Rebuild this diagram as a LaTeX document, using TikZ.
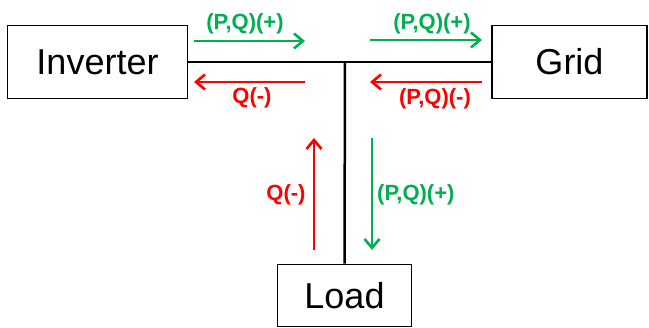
\documentclass[tikz,border=0pt]{standalone}
\usepackage{fontspec}
\setmainfont{Liberation Sans}
\usepackage{xcolor}
\usetikzlibrary{arrows.meta,positioning}
\definecolor{verdeflujo}{RGB}{0,176,80}
\definecolor{rojoflujo}{RGB}{255,0,0}
\tikzset{
  caja/.style={draw=black,line width=1.5pt,inner sep=0pt,font=\fontsize{36}{40}\selectfont},
  linea/.style={black,line width=2.5pt},
  flecha/.style={line width=2.6pt,-{Straight Barb[length=9pt,width=15pt,line width=2.6pt]}},
  etiq/.style={font=\bfseries\fontsize{22}{26}\selectfont,inner sep=0pt}
}

\begin{document}
\begin{tikzpicture}[x=1pt,y=-1pt]
\useasboundingbox (0,0) rectangle (649,328);
% bloques
\node[caja,minimum width=180pt,minimum height=73pt] (inv) at (97.5,62) {Inverter};
\node[caja,minimum width=155pt,minimum height=73pt] (grid) at (569.5,62) {Grid};
\node[caja,minimum width=134pt,minimum height=62pt] (load) at (344.5,295.5) {Load};
\coordinate (nodo) at (345,62);
\draw[linea] (inv.east) -- (grid.west);
\draw[linea] (nodo) -- (load.north);
% flujos lado inversor
\coordinate (g1a) at (194,41); \coordinate (g1b) at (305,41);
\coordinate (r1a) at (305,82); \coordinate (r1b) at (194,82);
\draw[flecha,verdeflujo] (g1a) -- (g1b);
\draw[flecha,rojoflujo] (r1a) -- (r1b);
\node[etiq,verdeflujo] (lpq1) at (245,24) {(P,Q)(+)};
\node[etiq,rojoflujo] (lq1) at (252,98) {Q(-)};
% flujos lado red
\coordinate (g2a) at (370,40); \coordinate (g2b) at (482,40);
\coordinate (r2a) at (482,82); \coordinate (r2b) at (370,82);
\draw[flecha,verdeflujo] (g2a) -- (g2b);
\draw[flecha,rojoflujo] (r2a) -- (r2b);
\node[etiq,verdeflujo] (lpq2) at (432,24) {(P,Q)(+)};
\node[etiq,rojoflujo] (lpq3) at (435,99) {(P,Q)(-)};
% flujos carga
\coordinate (r3a) at (314,250); \coordinate (r3b) at (314,138);
\coordinate (g3a) at (372,138); \coordinate (g3b) at (372,250);
\draw[flecha,rojoflujo] (r3a) -- (r3b);
\draw[flecha,verdeflujo] (g3a) -- (g3b);
\node[etiq,rojoflujo] (lq2) at (286,195) {Q(-)};
\node[etiq,verdeflujo,anchor=west] (lpq4) at (377,195) {(P,Q)(+)};
\end{tikzpicture}
\end{document}
